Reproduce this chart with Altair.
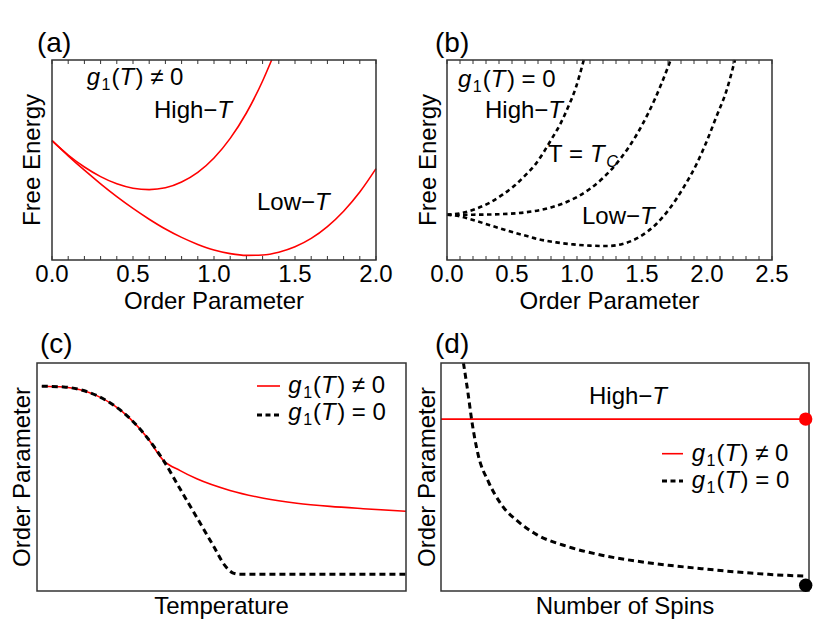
import altair as alt
import pandas as pd

FONT = "Liberation Sans"
RED = "#ff0000"
INK = "#000000"
FRAME = "#333333"

# ---------------- data ----------------
# (a) g1(T) != 0 : free energy vs order parameter
a_high_x = [0.0, 0.1, 0.2, 0.3, 0.4, 0.5, 0.6, 0.7, 0.8, 0.9, 1.0, 1.1, 1.2, 1.3, 1.356]
a_high_y = [0.597, 0.525, 0.465, 0.417, 0.381, 0.359, 0.352, 0.361, 0.390, 0.438,
            0.510, 0.608, 0.735, 0.895, 1.0]
a_low_x = [0.0, 0.1, 0.2, 0.3, 0.4, 0.5, 0.6, 0.7, 0.8, 0.9, 1.0, 1.1, 1.2, 1.3,
           1.4, 1.5, 1.6, 1.7, 1.8, 1.9, 2.0]
a_low_y = [0.597, 0.521, 0.449, 0.381, 0.317, 0.258, 0.204, 0.155, 0.113, 0.078,
           0.050, 0.032, 0.023, 0.025, 0.039, 0.066, 0.108, 0.167, 0.244, 0.340, 0.457]

# (b) g1(T) = 0
b_high_x = [0.0, 0.12, 0.23, 0.33, 0.43, 0.52, 0.60, 0.68, 0.74, 0.80, 0.87, 0.93, 0.99, 1.052]
b_high_y = [0.2265, 0.236, 0.258, 0.287, 0.328, 0.372, 0.422, 0.478, 0.535, 0.600,
            0.678, 0.762, 0.860, 1.0]
b_tc_x = [0.0, 0.2, 0.4, 0.6, 0.8, 1.0, 1.1, 1.2, 1.3, 1.4, 1.5, 1.6, 1.7, 1.72]
b_tc_y = [0.2265, 0.2266, 0.229, 0.238, 0.263, 0.315, 0.356, 0.410, 0.479, 0.566,
          0.674, 0.806, 0.965, 1.0]
b_low_x = [0.0, 0.1, 0.2, 0.33, 0.46, 0.59, 0.71, 0.84, 0.97, 1.10, 1.23, 1.35, 1.48,
           1.61, 1.71, 1.82, 1.92, 2.00, 2.07, 2.15, 2.215]
b_low_y = [0.2265, 0.218, 0.200, 0.174, 0.148, 0.124, 0.103, 0.088, 0.078, 0.072,
           0.070, 0.080, 0.115, 0.180, 0.255, 0.363, 0.480, 0.597, 0.713, 0.847, 1.0]

# (c) order parameter vs temperature
c_shared_x = [0.013, 0.072, 0.117, 0.162, 0.207, 0.253, 0.298, 0.343]
c_shared_y = [0.898, 0.895, 0.883, 0.857, 0.816, 0.755, 0.674, 0.572]
c_red_x = [0.388, 0.433, 0.523, 0.614, 0.704, 0.794, 0.884, 1.0]
c_red_y = [0.528, 0.492, 0.441, 0.407, 0.385, 0.371, 0.361, 0.350]
c_blk_x = [0.388, 0.433, 0.478, 0.510, 0.530, 0.550, 1.0]
c_blk_y = [0.447, 0.323, 0.198, 0.110, 0.080, 0.073, 0.073]

# (d) order parameter vs number of spins
d_red_x = [0.0, 1.0]
d_red_y = [0.754, 0.754]
d_blk_x = [0.061, 0.074, 0.083, 0.101, 0.129, 0.165, 0.210, 0.255, 0.346,
           0.437, 0.527, 0.618, 0.708, 0.799, 0.889, 0.994]
d_blk_y = [1.0, 0.861, 0.754, 0.597, 0.479, 0.377, 0.304, 0.252, 0.194,
           0.157, 0.132, 0.113, 0.098, 0.084, 0.073, 0.065]
d_dot_x = [0.991, 0.991]
d_dot_y = [0.754, 0.025]
d_dot_c = ["red", "black"]

# axis ticks / labels
ticks_a = [round(i * 0.1, 1) for i in range(21)]
ticks_b = [round(i * 0.1, 1) for i in range(26)]
labels_a = [0.0, 0.5, 1.0, 1.5, 2.0]
labels_b = [0.0, 0.5, 1.0, 1.5, 2.0, 2.5]

one = pd.DataFrame({"k": [0]})

# every panel is an identical 407 x 313 cell; the framed plot sits inside it
CW, CH = 407, 313

# ---------------- helpers ----------------
ADV = {" ": 278, "(": 333, ")": 333, "0": 556, "1": 556, "=": 584, "≠": 584,
       "g": 556, "T": 611, "H": 722, "i": 222, "h": 556, "−": 584, "L": 556,
       "o": 556, "w": 722, "C": 722}


def adv(s, size):
    return sum(ADV.get(ch, 556) for ch in s) * size / 1000.0


def rich(pieces, x0, y0):
    """Several text runs with their own style, laid side by side."""
    out = []
    x = x0
    for text, style in pieces:
        size, italic, dy, extra = 24, False, 0, 0.0
        if style == "i":
            italic, extra = True, 1.5
        elif style == "sub":
            size, dy, extra = 16, 5, 1.0
        elif style == "subi":
            size, dy, italic = 16, 5, True
        lead = len(text) - len(text.lstrip(" "))
        x += adv(" " * lead, size)
        body = text.strip(" ")
        out.append(
            alt.Chart(one).mark_text(
                text=body, font=FONT, fontSize=size,
                fontStyle="italic" if italic else "normal",
                align="left", baseline="alphabetic", color=INK,
            ).encode(x=alt.value(x), y=alt.value(y0 + dy))
        )
        x += adv(text.lstrip(" "), size) + extra
    return out


def text_at(txt, x, y, size=24, angle=0, align="left"):
    return alt.Chart(one).mark_text(
        text=txt, font=FONT, fontSize=size, align=align, baseline="alphabetic",
        color=INK, angle=angle,
    ).encode(x=alt.value(x), y=alt.value(y))


def frame(l, t, r, b):
    return alt.Chart(one).mark_rect(fillOpacity=0, stroke=FRAME, strokeWidth=1.5).encode(
        x=alt.value(l), x2=alt.value(r), y=alt.value(t), y2=alt.value(b))


def tick_layers(vals, X, top, bottom):
    df = pd.DataFrame({"x": vals})
    bot = alt.Chart(df).mark_rule(color=FRAME, strokeWidth=1).encode(
        x=X, y=alt.value(bottom - 4), y2=alt.value(bottom))
    tp = alt.Chart(df).mark_rule(color=FRAME, strokeWidth=1).encode(
        x=X, y=alt.value(top), y2=alt.value(top + 4))
    return [bot, tp]


def tick_labels(vals, X, y):
    df = pd.DataFrame({"x": vals})
    return alt.Chart(df).mark_text(
        font=FONT, fontSize=24, align="center", baseline="alphabetic", color=INK
    ).encode(x=X, y=alt.value(y), text=alt.Text("x:Q", format=".1f"))


def series_df(pairs):
    rows = []
    for name, xs, ys in pairs:
        for xv, yv in zip(xs, ys):
            rows.append({"x": xv, "y": yv, "s": name})
    return pd.DataFrame(rows)


def scales(xmax, l, r, t, b):
    X = alt.X("x:Q", axis=None,
              scale=alt.Scale(domain=[0, xmax], range=[l, r], nice=False, zero=False))
    Y = alt.Y("y:Q", axis=None,
              scale=alt.Scale(domain=[0, 1], range=[b, t], nice=False, zero=False))
    return X, Y


G_NE = [("g", "i"), ("1", "sub"), ("(", "n"), ("T", "i"), (")", "n"), (" ≠ 0", "n")]
G_EQ = [("g", "i"), ("1", "sub"), ("(", "n"), ("T", "i"), (")", "n"), (" = 0", "n")]
HIGH = [("High−", "n"), ("T", "i")]
LOW = [("Low−", "n"), ("T", "i")]
TC = [("T = ", "n"), ("T", "i"), ("C", "subi")]

# ---------------- panel (a) ----------------
AL, AR, AT, AB = 44, 368, 52, 252
Xa, Ya = scales(2.0, AL, AR, AT, AB)
a_df = series_df([("high", a_high_x, a_high_y), ("low", a_low_x, a_low_y)])
pa = alt.layer(
    alt.Chart(a_df).mark_line(color=RED, strokeWidth=1.6, interpolate="monotone").encode(
        x=Xa, y=Ya, detail="s:N"),
    *tick_layers(ticks_a, Xa, AT, AB),
    frame(AL, AT, AR, AB),
    tick_labels(labels_a, Xa, 273.5),
    text_at("Order Parameter", (AL + AR) / 2, 301.3, align="center"),
    text_at("Free Energy", 32.3, (AT + AB) / 2, angle=270, align="center"),
    text_at("(a)", 29, 44, size=28),
    *rich(G_NE, 78.7, 77), *rich(HIGH, 146, 110), *rich(LOW, 249, 202),
).properties(width=CW, height=CH)

# ---------------- panel (b) ----------------
BL, BR, BT, BB = 32, 357, 52, 252
Xb, Yb = scales(2.5, BL, BR, BT, BB)
b_df = series_df([("high", b_high_x, b_high_y), ("tc", b_tc_x, b_tc_y), ("low", b_low_x, b_low_y)])
pb = alt.layer(
    alt.Chart(b_df).mark_line(color=INK, strokeWidth=2.6, strokeDash=[4.5, 3.5],
                              interpolate="monotone").encode(x=Xb, y=Yb, detail="s:N"),
    *tick_layers(ticks_b, Xb, BT, BB),
    frame(BL, BT, BR, BB),
    tick_labels(labels_b, Xb, 273.5),
    text_at("Order Parameter", (BL + BR) / 2, 301.3, align="center"),
    text_at("Free Energy", 21, (BT + BB) / 2, angle=270, align="center"),
    text_at("(b)", 20, 44, size=28),
    *rich(G_EQ, 43, 79), *rich(HIGH, 70, 110), *rich(TC, 133, 154), *rich(LOW, 167, 216),
).properties(width=CW, height=CH)

# ---------------- panel (c) ----------------
CL, CR, CT, CB = 29, 398, 42, 270
Xc, Yc = scales(1.0, CL, CR, CT, CB)
c_red = pd.DataFrame({"x": c_shared_x + c_red_x, "y": c_shared_y + c_red_y})
c_blk = pd.DataFrame({"x": c_shared_x + c_blk_x, "y": c_shared_y + c_blk_y})
pc = alt.layer(
    alt.Chart(c_red).mark_line(color=RED, strokeWidth=1.6, interpolate="monotone").encode(x=Xc, y=Yc),
    alt.Chart(c_blk).mark_line(color=INK, strokeWidth=3, strokeDash=[6, 4],
                               interpolate="monotone").encode(x=Xc, y=Yc),
    frame(CL, CT, CR, CB),
    text_at("Temperature", (CL + CR) / 2, 293, align="center"),
    text_at("Order Parameter", 21.5, (CT + CB) / 2, angle=270, align="center"),
    text_at("(c)", 32, 32, size=28),
    alt.Chart(one).mark_rule(color=RED, strokeWidth=1.6).encode(
        x=alt.value(249), x2=alt.value(272), y=alt.value(65)),
    alt.Chart(one).mark_rule(color=INK, strokeWidth=3, strokeDash=[5, 3.5]).encode(
        x=alt.value(249), x2=alt.value(272), y=alt.value(94)),
    *rich(G_NE, 280.3, 71.7), *rich(G_EQ, 280.3, 99),
).properties(width=CW, height=CH)

# ---------------- panel (d) ----------------
DL, DR, DT, DB = 26, 394, 42, 270
Xd, Yd = scales(1.0, DL, DR, DT, DB)
d_r = pd.DataFrame({"x": d_red_x, "y": d_red_y})
d_b = pd.DataFrame({"x": d_blk_x, "y": d_blk_y})
d_p = pd.DataFrame({"x": d_dot_x, "y": d_dot_y, "c": d_dot_c})
pdd = alt.layer(
    alt.Chart(d_r).mark_line(color=RED, strokeWidth=1.6).encode(x=Xd, y=Yd),
    alt.Chart(d_b).mark_line(color=INK, strokeWidth=3, strokeDash=[6, 4],
                             interpolate="monotone").encode(x=Xd, y=Yd),
    frame(DL, DT, DR, DB),
    alt.Chart(d_p).mark_circle(size=180, opacity=1).encode(
        x=Xd, y=Yd,
        color=alt.Color("c:N", scale=alt.Scale(domain=["red", "black"], range=[RED, INK]),
                        legend=None)),
    text_at("Number of Spins", (DL + DR) / 2, 293, align="center"),
    text_at("Order Parameter", 19.5, (DT + DB) / 2, angle=270, align="center"),
    text_at("(d)", 20, 32, size=28),
    alt.Chart(one).mark_rule(color=RED, strokeWidth=1.6).encode(
        x=alt.value(247), x2=alt.value(268), y=alt.value(132.7)),
    alt.Chart(one).mark_rule(color=INK, strokeWidth=3, strokeDash=[5, 3.5]).encode(
        x=alt.value(247), x2=alt.value(268), y=alt.value(160)),
    *rich(HIGH, 174, 83), *rich(G_NE, 276.7, 140), *rich(G_EQ, 276.7, 167.3),
).properties(width=CW, height=CH)

chart = alt.vconcat(
    alt.hconcat(pa, pb, spacing=0),
    alt.hconcat(pc, pdd, spacing=0),
    spacing=0,
).properties(padding=0).configure_view(
    strokeOpacity=0
).configure_concat(spacing=0)

chart.save("out.html", embed_options={"renderer": "svg", "actions": False})
